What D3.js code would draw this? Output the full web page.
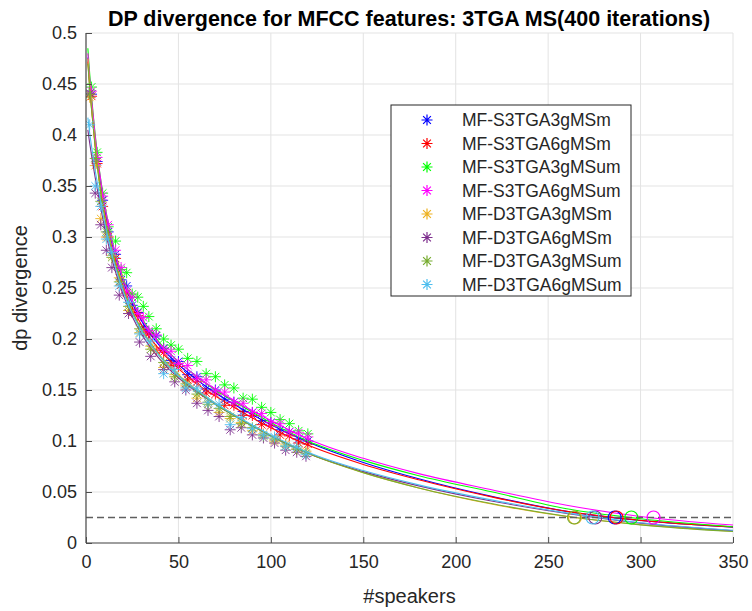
<!DOCTYPE html>
<html><head><meta charset="utf-8">
<script src="https://cdn.jsdelivr.net/npm/d3@7"></script>
<style>html,body{margin:0;padding:0;background:#fff;}svg{display:block;}</style>
</head><body>
<svg id="chart" width="752" height="611"></svg>
<script>
// ---------- data ----------
const seriesNames = ["MF-S3TGA3gMSm","MF-S3TGA6gMSm","MF-S3TGA3gMSum","MF-S3TGA6gMSum","MF-D3TGA3gMSm","MF-D3TGA6gMSm","MF-D3TGA3gMSum","MF-D3TGA6gMSum"];
const seriesColors = ["#0000ff","#ff0000","#00ff00","#ff00ff","#EDB120","#7E2F8E","#77AC30","#4DBEEE"];
const xTicks = [0,50,100,150,200,250,300,350];
const yTicks = [0,0.05,0.1,0.15,0.2,0.25,0.3,0.35,0.4,0.45,0.5];
const yTickLabels = ["0","0.05","0.1","0.15","0.2","0.25","0.3","0.35","0.4","0.45","0.5"];
const threshold = 0.025;

// speaker counts of the measured points
const speakersS = [3,6,9,12,16,19,22,25,28,31,34,38,42,46,50,55,60,65,70,75,80,85,90,95,100,105,110,115,120];
const speakersD = [2,5,8,11,14,18,23,29,35,42,48,54,60,66,72,78,84,90,96,102,108,114,119];

// measured dp divergence
const pointsS3TGA3gMSm  = [0.44,0.374,0.336,0.305,0.283,0.258,0.252,0.233,0.226,0.212,0.206,0.203,0.191,0.179,0.178,0.165,0.163,0.151,0.15,0.141,0.138,0.129,0.128,0.12,0.118,0.111,0.109,0.102,0.1];
const pointsS3TGA6gMSm  = [0.438,0.372,0.33,0.3,0.279,0.253,0.245,0.226,0.223,0.207,0.205,0.189,0.187,0.174,0.173,0.16,0.158,0.147,0.146,0.135,0.135,0.125,0.125,0.116,0.115,0.106,0.105,0.098,0.097];
const pointsS3TGA3gMSum = [0.447,0.383,0.343,0.31,0.296,0.268,0.265,0.244,0.241,0.232,0.222,0.21,0.2,0.194,0.19,0.181,0.178,0.166,0.163,0.155,0.152,0.142,0.141,0.133,0.128,0.121,0.117,0.11,0.107];
const pointsS3TGA6gMSum = [0.443,0.378,0.34,0.312,0.287,0.27,0.247,0.241,0.225,0.221,0.208,0.204,0.19,0.188,0.176,0.174,0.161,0.16,0.149,0.148,0.138,0.137,0.128,0.127,0.118,0.117,0.109,0.108,0.104];
const pointsD3TGA3gMSm  = [0.437,0.37,0.318,0.3,0.282,0.26,0.228,0.206,0.193,0.172,0.165,0.154,0.142,0.138,0.128,0.122,0.118,0.11,0.107,0.1,0.097,0.092,0.09];
const pointsD3TGA6gMSm  = [0.441,0.343,0.312,0.287,0.27,0.243,0.225,0.197,0.183,0.17,0.158,0.15,0.137,0.13,0.124,0.111,0.113,0.106,0.103,0.098,0.091,0.089,0.085];
const pointsD3TGA3gMSum = [0.44,0.377,0.335,0.305,0.28,0.256,0.232,0.21,0.19,0.177,0.163,0.156,0.146,0.136,0.132,0.124,0.117,0.113,0.105,0.102,0.095,0.092,0.088];
const pointsD3TGA6gMSum = [0.41,0.35,0.33,0.298,0.285,0.252,0.236,0.205,0.198,0.166,0.17,0.152,0.152,0.138,0.136,0.116,0.123,0.112,0.106,0.104,0.095,0.094,0.087];

// fitted curves, read at these speaker counts
const fitX = [1,2,3,5,7,10,15,20,25,30,40,50,60,70,80,100,120,150,180,220,260,300,350];
const fitS3TGA3gMSm  = [0.476,0.452,0.431,0.394,0.364,0.329,0.287,0.257,0.235,0.218,0.193,0.175,0.16,0.147,0.136,0.116,0.099,0.079,0.063,0.0455,0.031,0.022,0.0155];
const fitS3TGA6gMSm  = [0.472,0.447,0.426,0.389,0.359,0.324,0.282,0.252,0.231,0.214,0.189,0.171,0.156,0.144,0.133,0.113,0.096,0.077,0.062,0.045,0.031,0.0222,0.0158];
const fitS3TGA3gMSum = [0.485,0.46,0.438,0.4,0.369,0.333,0.29,0.26,0.238,0.221,0.196,0.178,0.163,0.15,0.139,0.118,0.1,0.081,0.066,0.05,0.0335,0.0238,0.016];
const fitS3TGA6gMSum = [0.48,0.455,0.435,0.398,0.368,0.332,0.289,0.259,0.237,0.22,0.195,0.178,0.163,0.151,0.14,0.12,0.102,0.083,0.068,0.052,0.037,0.026,0.0176];
const fitD3TGA3gMSm  = [0.475,0.45,0.428,0.39,0.358,0.322,0.28,0.25,0.228,0.21,0.184,0.165,0.15,0.137,0.126,0.105,0.088,0.069,0.054,0.038,0.026,0.018,0.0115];
const fitD3TGA6gMSm  = [0.405,0.392,0.38,0.358,0.338,0.31,0.272,0.244,0.222,0.205,0.18,0.162,0.148,0.136,0.125,0.105,0.088,0.07,0.056,0.041,0.029,0.0195,0.012];
const fitD3TGA3gMSum = [0.47,0.446,0.425,0.387,0.356,0.32,0.279,0.249,0.227,0.209,0.183,0.164,0.149,0.136,0.125,0.105,0.088,0.069,0.054,0.0385,0.0262,0.0178,0.0112];
const fitD3TGA6gMSum = [0.417,0.402,0.389,0.365,0.344,0.315,0.276,0.247,0.225,0.208,0.183,0.164,0.15,0.137,0.126,0.106,0.089,0.071,0.057,0.042,0.0295,0.0198,0.0125];

// speaker count where each fit reaches the threshold
const crossingX = [286,287,295,307,264.5,275.5,264,274];

const series = seriesNames.map((name,i)=>({
  name, color: seriesColors[i],
  px: i<4 ? speakersS : speakersD,
  py: [pointsS3TGA3gMSm,pointsS3TGA6gMSm,pointsS3TGA3gMSum,pointsS3TGA6gMSum,pointsD3TGA3gMSm,pointsD3TGA6gMSm,pointsD3TGA3gMSum,pointsD3TGA6gMSum][i],
  fy: [fitS3TGA3gMSm,fitS3TGA6gMSm,fitS3TGA3gMSum,fitS3TGA6gMSum,fitD3TGA3gMSm,fitD3TGA6gMSm,fitD3TGA3gMSum,fitD3TGA6gMSum][i],
  cx: crossingX[i]
}));

// ---------- layout ----------
const svg = d3.select("#chart");
const L = 86, R = 733, T = 33, B = 543;
const x = d3.scaleLinear().domain([0,350]).range([L,R]);
const y = d3.scaleLinear().domain([0,0.5]).range([B,T]);
const FONT = "'Liberation Sans', Arial, Helvetica, sans-serif";
const textColor = "#262626";

// grid
const grid = svg.append("g");
grid.selectAll(".gx").data(xTicks).join("line")
  .attr("x1",d=>x(d)).attr("x2",d=>x(d)).attr("y1",T).attr("y2",B)
  .attr("stroke","#e3e3e3").attr("stroke-width",1);
grid.selectAll(".gy").data(yTicks).join("line")
  .attr("x1",L).attr("x2",R).attr("y1",d=>y(d)).attr("y2",d=>y(d))
  .attr("stroke","#e3e3e3").attr("stroke-width",1);

// plot content
const clipId = "plotclip";
svg.append("clipPath").attr("id",clipId).append("rect").attr("x",L).attr("y",T).attr("width",R-L).attr("height",B-T);
const plot = svg.append("g").attr("clip-path",`url(#${clipId})`);

const starPath = (r)=>{
  const d = r*0.7071;
  return `M${-r},0L${r},0M0,${-r}L0,${r}M${-d},${-d}L${d},${d}M${-d},${d}L${d},${-d}`;
};
const line = d3.line().x(d=>x(d[0])).y(d=>y(d[1])).curve(d3.curveMonotoneX);

series.forEach(s=>{
  const g = plot.append("g");
  g.selectAll("path.star").data(s.px.map((v,i)=>[v,s.py[i]])).join("path")
    .attr("transform",d=>`translate(${x(d[0])},${y(d[1])})`)
    .attr("d",starPath(5.5)).attr("stroke",s.color).attr("stroke-width",1).attr("stroke-opacity",0.9).attr("fill","none");
  g.append("path").datum(fitX.map((v,i)=>[v,s.fy[i]]))
    .attr("d",line).attr("fill","none").attr("stroke",s.color).attr("stroke-width",1.1);
});

// threshold dashed line
plot.append("line").attr("x1",x(0)).attr("x2",x(350)).attr("y1",y(threshold)).attr("y2",y(threshold))
  .attr("stroke","#5f5f5f").attr("stroke-width",1.5).attr("stroke-dasharray","7,4");

// crossing circles
series.forEach(s=>{
  plot.append("circle").attr("cx",x(s.cx)).attr("cy",y(threshold)).attr("r",6.5)
    .attr("fill","none").attr("stroke",s.color).attr("stroke-width",1.2);
});

// axes
const axisColor = "#4d4d4d";
const xAxis = d3.axisBottom(x).tickValues(xTicks).tickSize(-6).tickPadding(12).tickFormat(d3.format("d"));
const gx = svg.append("g").attr("transform",`translate(0,${B})`).call(xAxis);
const yAxis = d3.axisLeft(y).tickValues(yTicks).tickSize(-6).tickPadding(9).tickFormat((d,i)=>yTickLabels[i]);
const gy = svg.append("g").attr("transform",`translate(${L},0)`).call(yAxis);
[gx,gy].forEach(g=>{
  g.select(".domain").attr("stroke",axisColor).attr("stroke-width",1.2);
  g.selectAll(".tick line").attr("stroke",axisColor);
  g.selectAll(".tick text").attr("fill",textColor).style("font-family",FONT).style("font-size","18px");
});
gx.select(".domain").attr("d",`M${L},0H${R}`);
gy.select(".domain").attr("d",`M0,${B}V${T}`);

// labels
svg.append("text").attr("x",(L+R)/2).attr("y",603).attr("text-anchor","middle")
  .style("font-family",FONT).style("font-size","20px").attr("fill",textColor).text("#speakers");
svg.append("text").attr("transform",`translate(27,${(T+B)/2}) rotate(-90)`).attr("text-anchor","middle")
  .style("font-family",FONT).style("font-size","20px").attr("fill",textColor).text("dp divergence");
svg.append("text").attr("x",409).attr("y",26).attr("text-anchor","middle")
  .style("font-family",FONT).style("font-size","21.5px").style("font-weight","bold").attr("fill","#000")
  .text("DP divergence for MFCC features: 3TGA MS(400 iterations)");

// legend
const lg = svg.append("g");
lg.append("rect").attr("x",391).attr("y",105).attr("width",240).attr("height",191)
  .attr("fill","#fff").attr("stroke","#262626").attr("stroke-width",1);
series.forEach((s,i)=>{
  const yy = 120 + i*23.5;
  lg.append("path").attr("transform",`translate(427,${yy})`).attr("d",starPath(5.5))
    .attr("stroke",s.color).attr("stroke-width",1.2).attr("fill","none");
  lg.append("text").attr("x",462).attr("y",yy).attr("dy","0.35em")
    .style("font-family",FONT).style("font-size","17.5px").attr("fill",textColor).text(s.name);
});
</script>
</body></html>
